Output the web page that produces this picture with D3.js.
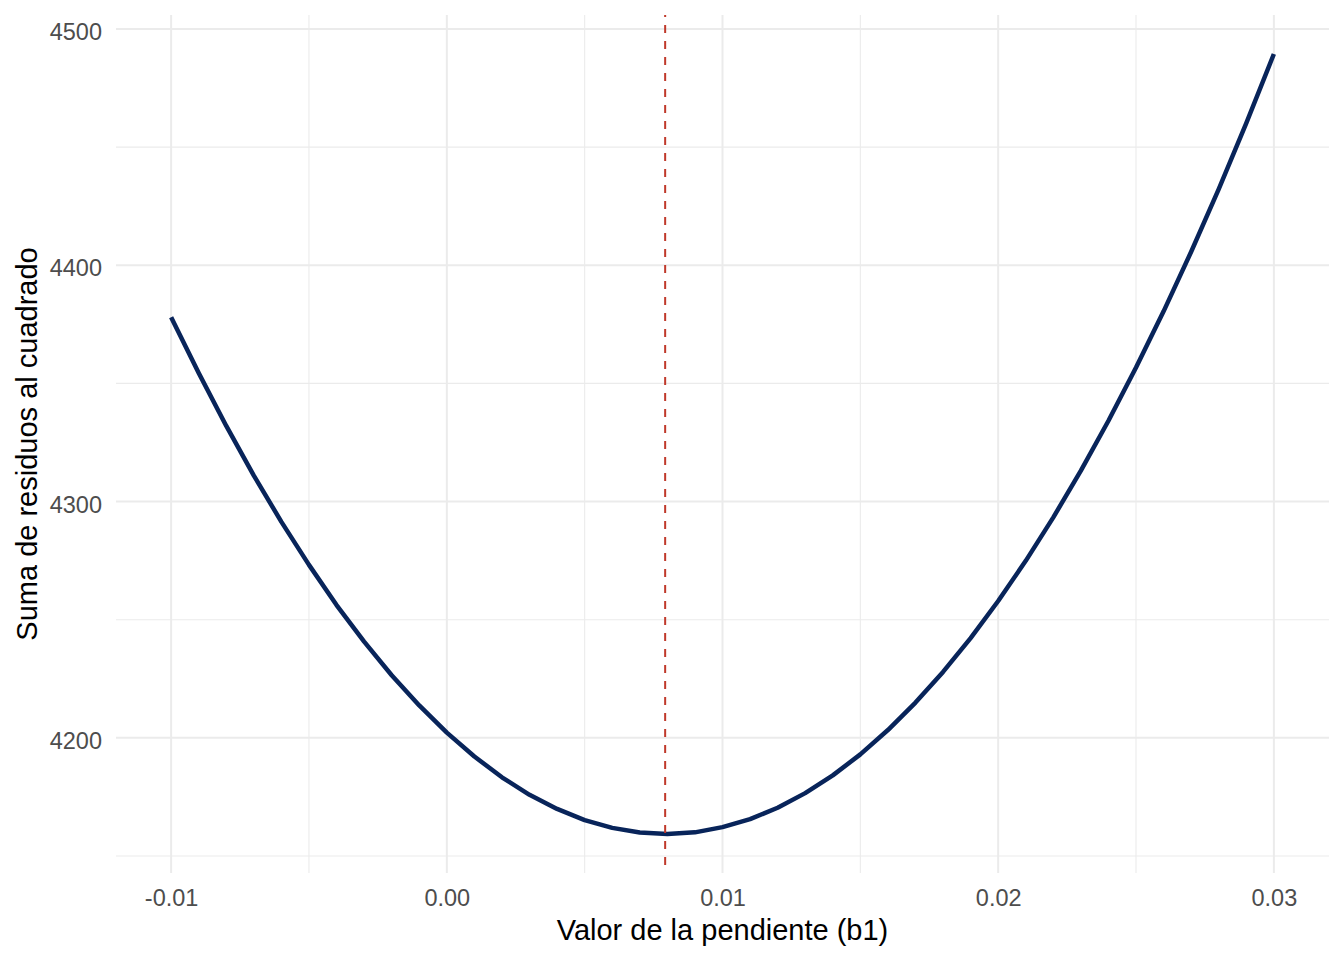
<!DOCTYPE html>
<html>
<head>
<meta charset="utf-8">
<script src="https://cdnjs.cloudflare.com/ajax/libs/d3/7.8.5/d3.min.js"></script>
<style>
  body { margin: 0; background: #fff; }
  text { font-family: "Liberation Sans", Arial, sans-serif; }
</style>
</head>
<body>
<div id="chart"></div>
<script>
// pendiente (b1) y suma de residuos al cuadrado
var slopes = [-0.010, -0.009, -0.008, -0.007, -0.006, -0.005, -0.004, -0.003, -0.002, -0.001,
  0.000, 0.001, 0.002, 0.003, 0.004, 0.005, 0.006, 0.007, 0.008, 0.009,
  0.010, 0.011, 0.012, 0.013, 0.014, 0.015, 0.016, 0.017, 0.018, 0.019,
  0.020, 0.021, 0.022, 0.023, 0.024, 0.025, 0.026, 0.027, 0.028, 0.029, 0.030];
var ssr = [4378.0, 4354.4, 4332.0, 4311.0, 4291.4, 4273.2, 4256.2, 4240.7, 4226.5, 4213.7,
  4202.2, 4192.1, 4183.3, 4175.9, 4169.9, 4165.2, 4161.9, 4159.9, 4159.3, 4160.0,
  4162.2, 4165.6, 4170.4, 4176.6, 4184.1, 4193.0, 4203.3, 4214.9, 4227.9, 4242.2,
  4257.9, 4274.9, 4293.3, 4313.1, 4334.2, 4356.7, 4380.5, 4405.7, 4432.2, 4460.1, 4489.4];
var bestSlope = [0.00792];
var xTicks = [-0.01, 0.00, 0.01, 0.02, 0.03];
var xTickLabels = ["-0.01", "0.00", "0.01", "0.02", "0.03"];
var xMinor = [-0.005, 0.005, 0.015, 0.025];
var yTicks = [4200, 4300, 4400, 4500];
var yMinor = [4150, 4250, 4350, 4450];

var W = 1344, H = 960;
var pLeft = 116, pRight = 1329, pTop = 15, pBottom = 873;

var svg = d3.select("#chart").append("svg").attr("width", W).attr("height", H);

// ggplot-style 5% expansion
var xr = d3.extent(slopes), yr = d3.extent(ssr);
var xpad = (xr[1] - xr[0]) * 0.05, ypad = (yr[1] - yr[0]) * 0.05;
var x = d3.scaleLinear().domain([xr[0] - xpad, xr[1] + xpad]).range([pLeft, pRight]);
var y = d3.scaleLinear().domain([yr[0] - ypad, yr[1] + ypad]).range([pBottom, pTop]);

var grid = svg.append("g");
grid.selectAll(".ym").data(yMinor).enter().append("line")
  .attr("x1", pLeft).attr("x2", pRight).attr("y1", y).attr("y2", y)
  .attr("stroke", "#ebebeb").attr("stroke-width", 1.1);
grid.selectAll(".xm").data(xMinor).enter().append("line")
  .attr("y1", pTop).attr("y2", pBottom).attr("x1", x).attr("x2", x)
  .attr("stroke", "#ebebeb").attr("stroke-width", 1.1);
grid.selectAll(".yM").data(yTicks).enter().append("line")
  .attr("x1", pLeft).attr("x2", pRight).attr("y1", y).attr("y2", y)
  .attr("stroke", "#ebebeb").attr("stroke-width", 2);
grid.selectAll(".xM").data(xTicks).enter().append("line")
  .attr("y1", pTop).attr("y2", pBottom).attr("x1", x).attr("x2", x)
  .attr("stroke", "#ebebeb").attr("stroke-width", 2);

// axes without lines, labels only
var xAxis = d3.axisBottom(x).tickValues(xTicks).tickSize(0).tickPadding(16)
  .tickFormat(function(d, i) { return xTickLabels[i]; });
var gx = svg.append("g").attr("transform", "translate(0," + pBottom + ")").call(xAxis);
gx.select(".domain").remove();
gx.selectAll("text").attr("font-size", 23.5).attr("fill", "#4d4d4d")
  .attr("font-family", "Liberation Sans, Arial, sans-serif");

var yAxis = d3.axisLeft(y).tickValues(yTicks).tickSize(0).tickPadding(14).tickFormat(d3.format("d"));
var gy = svg.append("g").attr("transform", "translate(" + pLeft + ",0)").call(yAxis);
gy.select(".domain").remove();
gy.selectAll("text").attr("font-size", 23.5).attr("fill", "#4d4d4d").attr("dy", "0.45em")
  .attr("font-family", "Liberation Sans, Arial, sans-serif");

// curve
var line = d3.line().x(function(d, i) { return x(slopes[i]); }).y(function(d) { return y(d); });
svg.append("path").datum(ssr).attr("d", line)
  .attr("fill", "none").attr("stroke", "#08245a").attr("stroke-width", 4.5)
  .attr("stroke-linejoin", "round");

// minimum
svg.selectAll(".vline").data(bestSlope).enter().append("line")
  .attr("x1", x).attr("x2", x).attr("y1", pTop).attr("y2", pBottom)
  .attr("stroke", "#c0392b").attr("stroke-width", 2)
  .attr("stroke-dasharray", "8,8").attr("stroke-dashoffset", 6);

// titles
svg.append("text").attr("x", (pLeft + pRight) / 2).attr("y", 940)
  .attr("text-anchor", "middle").attr("font-size", 29).attr("fill", "#000")
  .text("Valor de la pendiente (b1)");
svg.append("text").attr("transform", "translate(37," + ((pTop + pBottom) / 2) + ") rotate(-90)")
  .attr("text-anchor", "middle").attr("font-size", 29).attr("fill", "#000")
  .text("Suma de residuos al cuadrado");
</script>
</body>
</html>
